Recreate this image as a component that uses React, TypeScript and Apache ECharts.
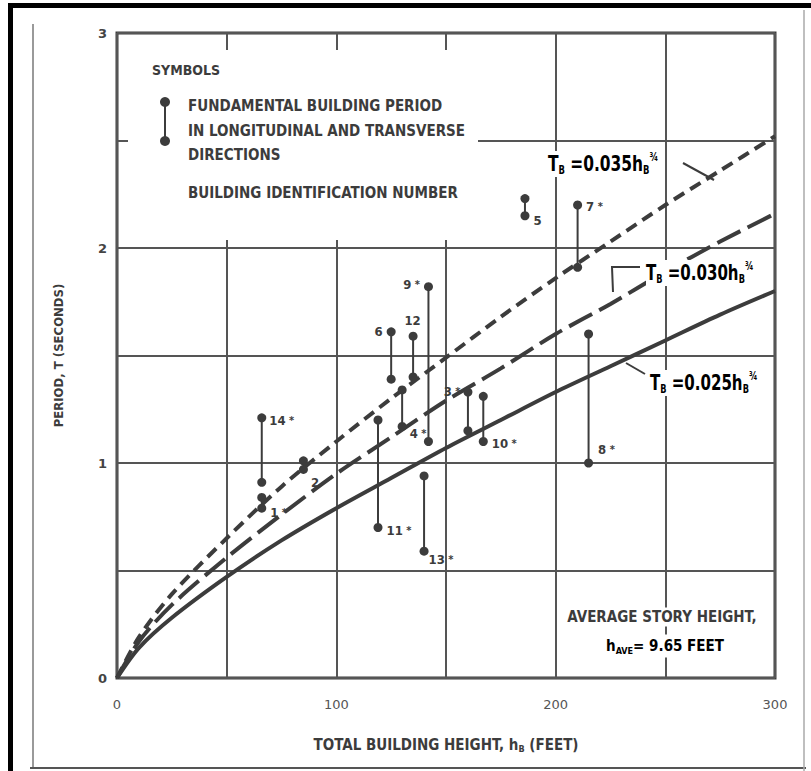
import React, { useEffect, useRef } from 'react';
import * as echarts from 'echarts';

// ---------- data ----------
const heightTicks = [0, 100, 200, 300];
const periodTicks = [0, 1, 2, 3];

const curveHeights = [0, 10, 25, 50, 75, 100, 125, 150, 175, 200, 225, 250, 275, 300];
const curve035 = [0, 0.19, 0.39, 0.65, 0.89, 1.1, 1.3, 1.49, 1.68, 1.86, 2.03, 2.2, 2.36, 2.52];
const curve030 = [0, 0.17, 0.34, 0.56, 0.76, 0.95, 1.12, 1.29, 1.44, 1.6, 1.74, 1.89, 2.03, 2.16];
const curve025 = [0, 0.14, 0.28, 0.47, 0.64, 0.79, 0.93, 1.07, 1.2, 1.33, 1.45, 1.57, 1.69, 1.8];

const buildingIds = ['14', '1', '2', '11', '6', '4', '12', '13', '9', '3', '10', '5', '7', '8'];
const buildingHeights = [66, 66, 85, 119, 125, 130, 135, 140, 142, 160, 167, 186, 210, 215];
const periodUpper = [1.21, 0.84, 1.01, 1.2, 1.61, 1.34, 1.59, 0.94, 1.82, 1.33, 1.31, 2.23, 2.2, 1.6];
const periodLower = [0.91, 0.79, 0.97, 0.7, 1.39, 1.17, 1.4, 0.59, 1.1, 1.15, 1.1, 2.15, 1.91, 1.0];
const buildingStarred = [true, true, false, true, false, true, false, true, true, true, true, false, true, true];

// ---------- styling ----------
const FONT = "'DejaVu Sans Condensed','Liberation Sans Narrow','Roboto Condensed','DejaVu Sans',sans-serif";
const INK = '#3c3c3c';
const GRID = '#555';

const labelPlacement: Record<string, { end: 'top' | 'bottom'; dx: number; dy: number; align: 'left' | 'right' | 'center' }> = {
  '14': { end: 'top', dx: 8, dy: 3, align: 'left' },
  '1': { end: 'bottom', dx: 9, dy: 5, align: 'left' },
  '2': { end: 'bottom', dx: 8, dy: 14, align: 'left' },
  '11': { end: 'bottom', dx: 9, dy: 3, align: 'left' },
  '6': { end: 'top', dx: -8, dy: 0, align: 'right' },
  '12': { end: 'top', dx: 0, dy: -15, align: 'center' },
  '4': { end: 'bottom', dx: 8, dy: 8, align: 'left' },
  '9': { end: 'top', dx: -8, dy: -2, align: 'right' },
  '13': { end: 'bottom', dx: 5, dy: 9, align: 'left' },
  '3': { end: 'top', dx: -7, dy: 0, align: 'right' },
  '10': { end: 'bottom', dx: 9, dy: 2, align: 'left' },
  '5': { end: 'bottom', dx: 9, dy: 5, align: 'left' },
  '7': { end: 'top', dx: 9, dy: 2, align: 'left' },
  '8': { end: 'bottom', dx: 10, dy: -13, align: 'left' },
};

const curveRich = {
  t: { fontFamily: FONT, fontSize: 22, fontWeight: 'bold', color: INK },
  sub: { fontFamily: FONT, fontSize: 12, fontWeight: 'bold', color: INK, padding: [12, 0, 0, 0] },
  sup: { fontFamily: FONT, fontSize: 12, fontWeight: 'bold', color: INK, padding: [0, 0, 14, 0] },
};

function txt(x: number, y: number, text: string, size: number, extra: any = {}) {
  return {
    type: 'text',
    x,
    y,
    z: 10,
    style: {
      text,
      fontFamily: FONT,
      fontSize: size,
      fontWeight: 'bold',
      fill: INK,
      verticalAlign: 'middle',
      ...extra,
    },
  };
}

function buildOption() {
  const curveSeries = (vals: number[], type: any) => ({
    type: 'line',
    data: curveHeights.map((h, i) => [h, vals[i]]),
    smooth: 0.3,
    symbol: 'none',
    lineStyle: { color: INK, width: 4, type },
    z: 3,
  });

  const dumbbellData = buildingIds.map((_, i) => [buildingHeights[i], periodUpper[i], periodLower[i]]);

  const labelData = buildingIds.map((id, i) => {
    const p = labelPlacement[id];
    return {
      value: [buildingHeights[i], p.end === 'top' ? periodUpper[i] : periodLower[i]],
      label: { position: [p.dx, p.dy], align: p.align },
    };
  });

  const graphics: any[] = [
    // scanned page frame
    { type: 'rect', shape: { x: 8, y: 3, width: 5, height: 768 }, style: { fill: '#000' }, z: 20 },
    { type: 'rect', shape: { x: 8, y: 3, width: 803, height: 5 }, style: { fill: '#000' }, z: 20 },
    { type: 'line', shape: { x1: 33, y1: 24, x2: 33, y2: 768 }, style: { stroke: '#9a9a9a', lineWidth: 2 }, z: 20 },
    { type: 'line', shape: { x1: 30, y1: 768, x2: 806, y2: 768 }, style: { stroke: '#555', lineWidth: 2 }, z: 20 },
    { type: 'line', shape: { x1: 804, y1: 10, x2: 804, y2: 771 }, style: { stroke: '#aaa', lineWidth: 1.5 }, z: 20 },
    // legend box (blank area over the grid)
    { type: 'rect', shape: { x: 128, y: 50, width: 350, height: 190 }, style: { fill: '#fff' }, z: 1 },
    txt(152, 70, 'SYMBOLS', 14),
    { type: 'line', shape: { x1: 165, y1: 102, x2: 165, y2: 141 }, style: { stroke: INK, lineWidth: 2 }, z: 10 },
    { type: 'circle', shape: { cx: 165, cy: 102, r: 5 }, style: { fill: INK }, z: 10 },
    { type: 'circle', shape: { cx: 165, cy: 141, r: 5 }, style: { fill: INK }, z: 10 },
    txt(188, 106, 'FUNDAMENTAL BUILDING PERIOD', 15),
    txt(188, 131, 'IN LONGITUDINAL AND TRANSVERSE', 15),
    txt(188, 155, 'DIRECTIONS', 15),
    txt(188, 193, 'BUILDING IDENTIFICATION NUMBER', 15),
    // curve annotations
    {
      type: 'text', x: 548, y: 164, z: 10, scaleX: 0.78,
      style: { text: '{t|T}{sub|B}{t| =0.035h}{sub|B}{sup|¾}', rich: curveRich, verticalAlign: 'middle', backgroundColor: '#fff' },
    },
    { type: 'polyline', shape: { points: [[683, 163], [714, 180]] }, style: { stroke: INK, lineWidth: 2 }, z: 10 },
    {
      type: 'text', x: 646, y: 273, z: 10, scaleX: 0.76,
      style: { text: '{t|T}{sub|B}{t| =0.030h}{sub|B}{sup|¾}', rich: curveRich, verticalAlign: 'middle', backgroundColor: '#fff' },
    },
    { type: 'polyline', shape: { points: [[640, 267], [612, 267], [613, 292]] }, style: { stroke: INK, lineWidth: 2 }, z: 10 },
    {
      type: 'text', x: 650, y: 383, z: 10, scaleX: 0.76,
      style: { text: '{t|T}{sub|B}{t| =0.025h}{sub|B}{sup|¾}', rich: curveRich, verticalAlign: 'middle', backgroundColor: '#fff' },
    },
    { type: 'polyline', shape: { points: [[626, 363], [645, 374]] }, style: { stroke: INK, lineWidth: 2 }, z: 10 },
    // story height note
    {
      type: 'text', x: 662, y: 617, z: 10,
      style: {
        text: 'AVERAGE STORY HEIGHT,', fontFamily: FONT, fontSize: 15, fontWeight: 'bold', fill: INK,
        align: 'center', verticalAlign: 'middle', backgroundColor: '#fff', padding: [2, 2],
      },
    },
    {
      type: 'text', x: 665, y: 646, z: 10,
      style: {
        text: '{a|h}{s|AVE}{a|= 9.65 FEET}',
        rich: {
          a: { fontFamily: FONT, fontSize: 15, fontWeight: 'bold', color: INK },
          s: { fontFamily: FONT, fontSize: 9, fontWeight: 'bold', color: INK, padding: [10, 0, 0, 0] },
        },
        align: 'center', verticalAlign: 'middle', backgroundColor: '#fff', padding: [2, 2],
      },
    },
  ];

  return {
    animation: false,
    backgroundColor: '#fff',
    grid: { left: 117, right: 36, top: 33, bottom: 93, show: true, borderColor: INK, borderWidth: 3 },
    xAxis: {
      type: 'value',
      min: 0,
      max: 300,
      interval: 50,
      axisLine: { show: false },
      axisTick: { show: false },
      splitLine: { lineStyle: { color: GRID, width: 2 } },
      axisLabel: {
        formatter: (v: number) => (heightTicks.includes(v) ? String(v) : ''),
        margin: 20,
        fontFamily: 'DejaVu Sans',
        fontSize: 13,
        color: '#555',
      },
      name: '{a|TOTAL BUILDING HEIGHT, h}{b|B}{a| (FEET)}',
      nameLocation: 'middle',
      nameGap: 58,
      nameTextStyle: {
        rich: {
          a: { fontFamily: FONT, fontSize: 15, fontWeight: 'bold', color: INK },
          b: { fontFamily: FONT, fontSize: 9, fontWeight: 'bold', color: INK, padding: [8, 0, 0, 0] },
        },
      },
    },
    yAxis: {
      type: 'value',
      min: 0,
      max: 3,
      interval: 0.5,
      axisLine: { show: false },
      axisTick: { show: false },
      splitLine: { lineStyle: { color: GRID, width: 2 } },
      axisLabel: {
        formatter: (v: number) => (periodTicks.includes(v) ? String(v) : ''),
        margin: 10,
        fontFamily: 'DejaVu Sans',
        fontSize: 13,
        fontWeight: 'bold',
        color: '#444',
      },
      name: 'PERIOD, T (SECONDS)',
      nameLocation: 'middle',
      nameGap: 52,
      nameRotate: 90,
      nameTextStyle: { fontFamily: FONT, fontSize: 13, fontWeight: 'bold', color: INK },
    },
    series: [
      curveSeries(curve035, [12, 7]),
      curveSeries(curve030, [26, 8]),
      curveSeries(curve025, 'solid'),
      {
        type: 'custom',
        data: dumbbellData,
        z: 5,
        renderItem: (_params: any, api: any) => {
          const p1 = api.coord([api.value(0), api.value(1)]);
          const p2 = api.coord([api.value(0), api.value(2)]);
          return {
            type: 'group',
            children: [
              { type: 'line', shape: { x1: p1[0], y1: p1[1], x2: p2[0], y2: p2[1] }, style: { stroke: INK, lineWidth: 2 } },
              { type: 'circle', shape: { cx: p1[0], cy: p1[1], r: 4.5 }, style: { fill: INK } },
              { type: 'circle', shape: { cx: p2[0], cy: p2[1], r: 4.5 }, style: { fill: INK } },
            ],
          };
        },
      },
      {
        type: 'scatter',
        data: labelData,
        symbolSize: 1,
        itemStyle: { color: 'rgba(0,0,0,0)' },
        z: 6,
        label: {
          show: true,
          verticalAlign: 'middle',
          color: INK,
          opacity: 1,
          textBorderWidth: 0,
          fontFamily: FONT,
          fontSize: 13,
          fontWeight: 'bold',
          formatter: (p: any) => {
            const i = p.dataIndex;
            return buildingStarred[i] ? `{n|${buildingIds[i]}}{s| *}` : `{n|${buildingIds[i]}}`;
          },
          rich: {
            n: { fontFamily: FONT, fontSize: 13, fontWeight: 'bold', color: INK, opacity: 1 },
            s: { fontFamily: FONT, fontSize: 11, fontWeight: 'bold', color: INK, opacity: 1 },
          },
        },
      },
    ],
    graphic: graphics,
  };
}

export default function App() {
  const ref = useRef<HTMLDivElement>(null);
  useEffect(() => {
    const chart = echarts.init(ref.current as HTMLDivElement, null, { renderer: 'svg' });
    chart.setOption(buildOption() as any);
    return () => chart.dispose();
  }, []);
  return (
    <div
      ref={ref}
      style={{ position: 'fixed', left: 0, top: 0, width: 811, height: 771, background: '#fff' }}
    />
  );
}
